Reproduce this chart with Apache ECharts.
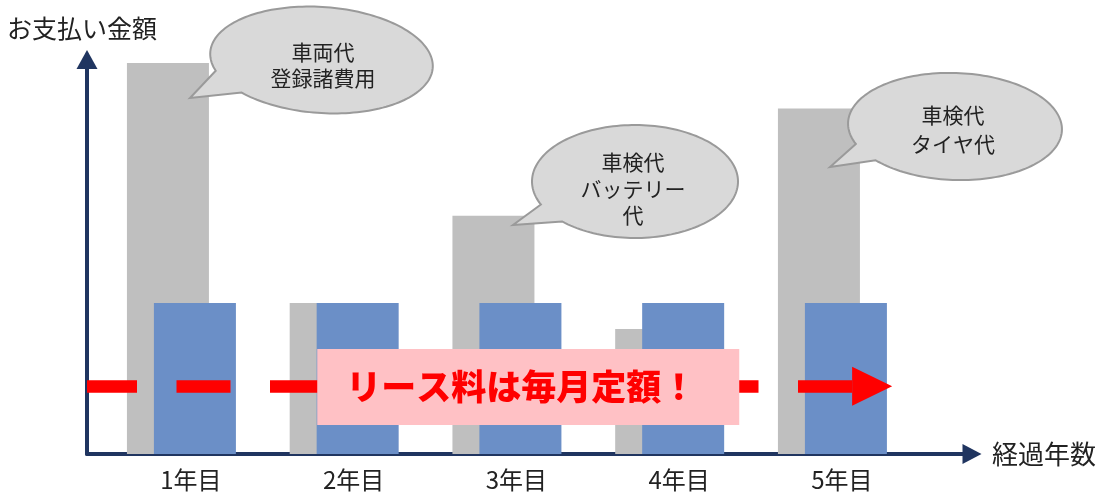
<!DOCTYPE html>
<html><head><meta charset="utf-8">
<script src="https://cdn.jsdelivr.net/npm/echarts@6/dist/echarts.min.js"></script>
<style>html,body{margin:0;padding:0;background:#fff}#c{width:1104px;height:492px}</style>
</head><body><div id="c"></div>
<script>
const categories = ['1年目', '2年目', '3年目', '4年目', '5年目'];
const yearPos = [1, 2, 3, 4, 5];
const totalCost = [99.1, 38.3, 60.4, 31.7, 87.6];
const leaseCost = [38.3, 38.3, 38.3, 38.3, 38.3];
const leaseLevel = 17.2;
const leaseBox = [1.8345, 4.4275, 7.35, 26.6];
const leaseLineA = [0.4198, 1.85];
const leaseLineB = [4.214, 5.244];
const leaseText = 'リース料は毎月定額！';
const yTitle = 'お支払い金額';
const xTitle = '経過年数';
const bubbleTexts = ['車両代\n登録諸費用', '車検代\nバッテリー\n代', '車検代\nタイヤ代'];

const FONT = '"Noto Sans CJK JP", "Noto Sans", sans-serif';
const TXT = '#222222';
const AX = '#203560';

function bubble(cx, cy, rx, ry, rot, tip, a1, a2) {
  const r = rot * Math.PI / 180;
  const pt = (deg) => {
    const t = deg * Math.PI / 180;
    const x = rx * Math.cos(t), y = ry * Math.sin(t);
    return [cx + x * Math.cos(r) - y * Math.sin(r), cy + x * Math.sin(r) + y * Math.cos(r)];
  };
  const pts = [pt(a1), tip, pt(a2)];
  const n = 160;
  for (let i = 1; i < n; i++) {
    const d = a2 - (360 - (a1 - a2)) * i / n;
    pts.push(pt(d));
  }
  return {
    type: 'polygon', z: 100, silent: true,
    shape: { points: pts },
    style: { fill: '#D9D9D9', stroke: '#9A9A9A', lineWidth: 2 }
  };
}
function btext(x, y, text, lh) {
  return {
    type: 'text', z: 101, x: x, y: y, silent: true,
    style: { text: text, fill: TXT, fontSize: 21, fontFamily: FONT, align: 'center', verticalAlign: 'middle', lineHeight: lh }
  };
}

const chart = echarts.init(document.getElementById('c'), null, { renderer: 'canvas' });
chart.setOption({
  animation: false,
  backgroundColor: '#ffffff',
  grid: { left: 87, right: 132, top: 59.5, bottom: 38, outerBoundsMode: 'none' },
  xAxis: {
    type: 'value', min: 0.4198, max: 5.8576,
    name: xTitle, nameLocation: 'end', nameGap: 20,
    nameTextStyle: { fontSize: 26, color: TXT, fontFamily: FONT, padding: [8, 0, 0, 0] },
    axisLine: { show: true, lineStyle: { color: AX, width: 4 }, symbol: ['none', 'triangle'], symbolSize: [20, 19] },
    axisTick: { show: false },
    splitLine: { show: false },
    axisLabel: {
      customValues: yearPos, margin: 14, fontSize: 24, color: TXT, fontFamily: FONT,
      padding: [0, 0, 0, 19],
      formatter: (v) => categories[Math.round(v) - 1] || ''
    }
  },
  yAxis: {
    type: 'value', min: 0, max: 100,
    name: yTitle, nameLocation: 'end', nameGap: 18,
    nameTextStyle: { fontSize: 25, color: TXT, fontFamily: FONT, padding: [0, 10, 0, 0] },
    axisLine: { show: true, lineStyle: { color: AX, width: 4 }, symbol: ['none', 'triangle'], symbolSize: [21, 19] },
    axisTick: { show: false },
    axisLabel: { show: false },
    splitLine: { show: false }
  },
  series: [
    {
      type: 'bar', name: 'total', barWidth: 82, barGap: '-67.1%',
      itemStyle: { color: '#BFBFBF' },
      data: yearPos.map((x, i) => [x, totalCost[i]])
    },
    {
      type: 'bar', name: 'lease', barWidth: 82, barGap: '-67.1%',
      itemStyle: { color: '#6B8FC7' },
      data: yearPos.map((x, i) => [x, leaseCost[i]])
    },
    {
      type: 'line', name: 'annot', data: [], silent: true,
      markLine: {
        silent: true, z: 5,
        label: { show: false },
        emphasis: { disabled: true },
        lineStyle: { color: '#FF0000', width: 12.5, type: [54, 39.5], dashOffset: 4, opacity: 1 },
        symbolSize: [39, 40],
        data: [
          [{ coord: [leaseLineA[0], leaseLevel], symbol: 'none' }, { coord: [leaseLineA[1], leaseLevel], symbol: 'none' }],
          [{ coord: [leaseLineB[0], leaseLevel], symbol: 'none', lineStyle: { dashOffset: 0 } }, { coord: [leaseLineB[1], leaseLevel], symbol: 'triangle' }]
        ]
      },
      markArea: {
        silent: true, z: 8,
        itemStyle: { color: '#FFC1C5', opacity: 1 },
        label: { show: true, position: 'inside', fontSize: 35, fontWeight: 900, color: '#FF0000', fontFamily: FONT, padding: [0, 14, 0, 0] },
        data: [[{ coord: [leaseBox[0], leaseBox[3]], name: leaseText }, { coord: [leaseBox[1], leaseBox[2]] }]]
      }
    }
  ],
  graphic: [
    bubble(321.5, 60, 111.5, 53, 4, [190, 98], 160, 134),
    btext(323, 65, bubbleTexts[0], 26),
    bubble(635, 181.5, 103, 56.5, 0, [513, 225], 156, 135),
    btext(633, 189, bubbleTexts[1], 26.5),
    bubble(955, 126.5, 107, 53.5, 2, [830, 167], 157, 137),
    btext(953, 130, bubbleTexts[2], 29)
  ]
});
</script></body></html>
